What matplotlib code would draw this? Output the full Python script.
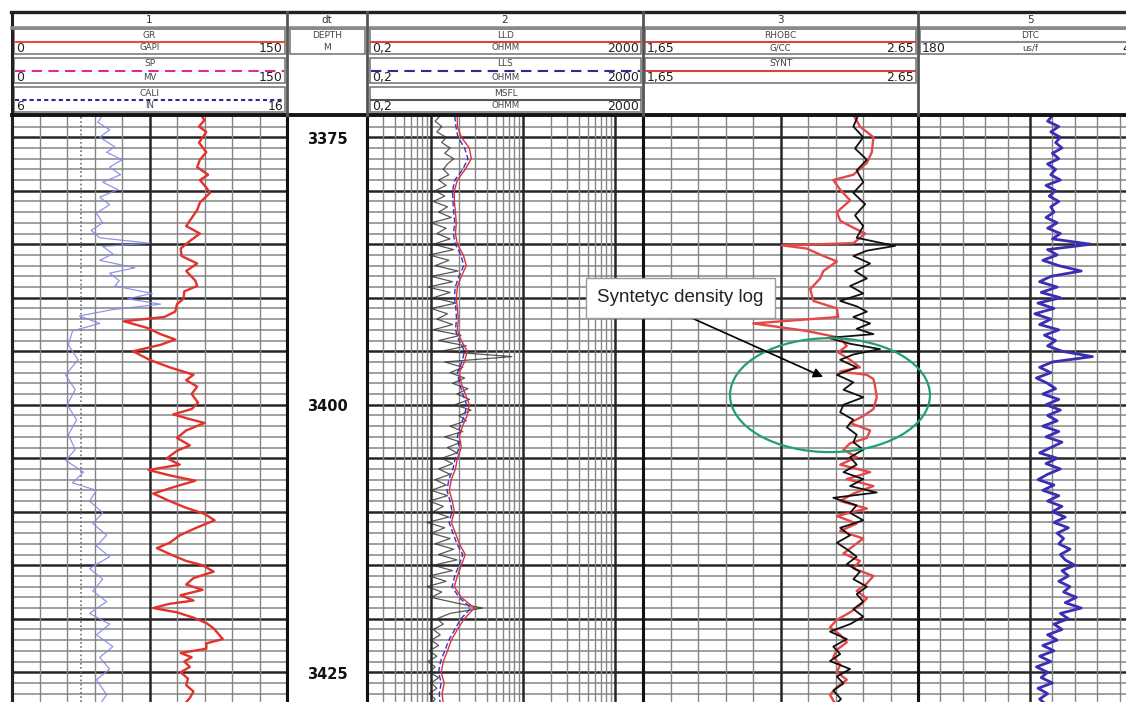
import numpy as np
import matplotlib
matplotlib.use("Agg")
import matplotlib.pyplot as plt
from matplotlib.patches import Rectangle, Ellipse

W, H = 1126, 702
TOP, BOTTOM = 3372.92, 3427.78

# --- log curves -----------------------------------------------------------
gr_depth = [3372.9, 3373.4, 3374.0, 3374.5, 3375.5, 3376.4, 3377.1, 3377.8, 3378.5, 3379.0,
            3379.7, 3380.2, 3381.1, 3381.8, 3382.3, 3383.3, 3384.0, 3384.7, 3385.4, 3386.1,
            3386.8, 3387.5, 3388.4, 3388.9, 3389.4, 3390.1, 3390.6, 3391.3, 3391.8, 3392.2,
            3392.8, 3393.4, 3393.9, 3394.4, 3395.0, 3395.8, 3396.5, 3397.2, 3397.7, 3398.3,
            3399.0, 3399.8, 3400.4, 3400.9, 3401.3, 3401.7, 3402.4, 3403.1, 3403.8, 3404.3,
            3405.0, 3405.6, 3406.1, 3406.6, 3407.1, 3407.6, 3408.3, 3409.0, 3409.6, 3410.2,
            3410.8, 3411.5, 3412.2, 3412.9, 3413.4, 3414.1, 3414.6, 3415.0, 3415.6, 3416.2,
            3416.8, 3417.3, 3417.8, 3418.3, 3418.6, 3419.0, 3419.4, 3419.9, 3420.4, 3420.9,
            3421.5, 3421.9, 3422.3, 3422.8, 3423.2, 3423.6, 3424.0, 3424.5, 3425.0, 3425.6,
            3426.2, 3426.8, 3427.4, 3428.0]
gr_vals = [103, 105, 102, 106, 102, 106, 102.5, 101, 107, 102.5,
           106, 108, 102.5, 101, 99, 95, 102.5, 97, 92, 92.5,
           101, 95, 100, 101, 94, 93.5, 90, 89, 83, 61,
           73.5, 81, 89, 81, 66, 75, 86, 99, 95, 101,
           98, 101.5, 98, 88, 96, 105, 95, 90, 97, 90,
           84.5, 91.5, 74.5, 86, 100, 90, 77, 86, 94.5, 105,
           110.5, 100.5, 91.5, 86, 79, 88, 95, 104, 110, 99,
           95, 104, 92, 99, 86, 77, 90, 99, 106, 110,
           113, 115, 106, 106, 92, 98, 94, 97, 92, 96,
           95, 99, 97, 94]

cali_depth = [3372.9, 3373.6, 3374.3, 3375.0, 3375.9, 3376.4, 3377.1, 3377.8, 3378.5, 3379.2,
              3379.9, 3380.6, 3381.3, 3382.1, 3383.0, 3383.7, 3384.4, 3384.9, 3385.2, 3385.9,
              3386.5, 3387.2, 3387.7, 3388.4, 3388.9, 3389.6, 3390.1, 3390.6, 3391.1, 3391.7,
              3392.4, 3393.1, 3394.4, 3395.8, 3397.2, 3398.6, 3400.0, 3401.4, 3402.8, 3404.2,
              3405.2, 3406.3, 3407.3, 3408.0, 3409.0, 3410.1, 3411.1, 3412.2, 3413.2, 3414.2,
              3415.3, 3416.3, 3417.4, 3418.4, 3419.5, 3420.5, 3421.5, 3422.6, 3423.6, 3424.7,
              3425.7, 3427.1, 3428.0]
cali_vals = [9.3, 9.12, 9.55, 9.19, 9.74, 9.44, 10.0, 9.55, 9.95, 9.3,
             9.85, 9.19, 9.55, 9.07, 9.3, 8.88, 9.19, 11.0, 9.3, 9.67,
             9.19, 10.47, 9.55, 9.9, 9.74, 11.1, 10.2, 11.4, 9.67, 8.45,
             9.19, 8.2, 8.05, 8.4, 7.95, 8.3, 8.0, 8.35, 8.05, 8.3,
             7.95, 8.6, 8.2, 9.07, 8.82, 9.3, 8.94, 9.44, 9.07, 9.55,
             8.82, 9.3, 8.94, 9.44, 8.82, 9.55, 9.07, 9.67, 9.19, 9.55,
             9.07, 9.44, 9.2]
BIT_SIZE = 8.5

res_depth = np.arange(3373, 3429)
lld_vals = [1.92, 1.92, 2.12, 2.59, 2.72, 2.34, 1.92, 1.78, 1.78, 1.83,
            1.87, 1.83, 1.92, 2.23, 2.40, 2.12, 1.92, 1.87, 1.92, 1.97,
            1.92, 2.12, 2.46, 2.29, 2.02, 2.12, 2.34, 2.59, 2.46, 2.18,
            2.02, 2.12, 1.92, 1.83, 1.65, 1.57, 1.69, 1.78, 1.65, 1.83,
            2.02, 2.34, 2.12, 1.92, 1.78, 2.12, 2.94, 2.29, 1.92, 1.65,
            1.50, 1.35, 1.28, 1.38, 1.31, 1.35]
lls_vals = [1.80, 1.85, 1.95, 2.30, 2.50, 2.20, 1.80, 1.70, 1.72, 1.75,
            1.80, 1.74, 1.82, 2.10, 2.25, 2.00, 1.82, 1.78, 1.85, 1.88,
            1.83, 2.00, 2.30, 2.15, 1.92, 2.02, 2.20, 2.42, 2.30, 2.05,
            1.92, 2.00, 1.82, 1.72, 1.55, 1.48, 1.60, 1.68, 1.56, 1.72,
            1.90, 2.20, 2.00, 1.80, 1.68, 2.00, 2.70, 2.10, 1.80, 1.55,
            1.40, 1.26, 1.20, 1.28, 1.22, 1.25]

half_depth = np.arange(3373.0, 3428.01, 0.5)
msfl_vals = [1.25, 1.10, 1.30, 1.15, 1.45, 1.30, 1.60, 1.40, 1.75, 1.50,
             1.35, 1.55, 1.20, 1.45, 1.10, 1.40, 1.05, 1.50, 1.20, 1.65,
             1.00, 1.45, 1.15, 1.60, 1.05, 1.75, 0.95, 1.55, 1.10, 1.95,
             1.00, 1.70, 0.92, 1.60, 1.05, 1.85, 1.00, 1.50, 1.15, 1.70,
             1.05, 2.10, 1.20, 2.40, 1.30, 7.50, 1.40, 2.20, 1.60, 2.30,
             1.70, 2.50, 1.90, 2.60, 1.80, 2.70, 2.00, 2.40, 1.60, 2.20,
             1.40, 2.10, 1.50, 1.90, 1.30, 1.70, 1.20, 1.60, 1.10, 1.45,
             1.00, 1.50, 0.95, 1.35, 1.05, 1.55, 0.90, 1.40, 1.00, 1.60,
             1.10, 1.75, 1.20, 1.90, 1.05, 1.70, 0.95, 1.45, 0.90, 1.30,
             1.00, 1.80, 3.60, 1.60, 1.15, 1.35, 1.05, 1.25, 1.00, 1.20,
             0.95, 1.15, 0.92, 1.10, 0.95, 1.20, 1.00, 1.15, 0.95, 1.10, 1.00]

rhob_depth = [3372.9, 3374.0, 3375.0, 3376.4, 3377.4, 3378.5, 3379.0, 3379.9, 3380.9, 3382.0,
              3382.8, 3383.3, 3384.0, 3384.9, 3385.1, 3385.4, 3386.1, 3386.6, 3387.5, 3388.2,
              3389.2, 3390.3, 3391.0, 3391.8, 3392.4, 3393.1, 3393.75, 3394.5, 3395.1, 3395.8,
              3396.5, 3396.9, 3397.2, 3397.6, 3398.3, 3399.3, 3400.4, 3401.05, 3401.7, 3402.4,
              3403.1, 3403.6, 3404.2, 3404.9, 3405.6, 3406.3, 3406.95, 3407.6, 3408.3, 3409.0,
              3409.7, 3410.4, 3411.1, 3411.8, 3412.5, 3413.2, 3413.9, 3414.6, 3415.3, 3416.0,
              3416.7, 3417.4, 3418.1, 3418.75, 3419.4, 3420.1, 3420.8, 3421.5, 3422.2, 3422.9,
              3423.6, 3424.3, 3425.0, 3425.7, 3426.4, 3427.1, 3428.0]
rhob_vals = [2.415, 2.439, 2.488, 2.482, 2.464, 2.415, 2.342, 2.367, 2.403, 2.355,
             2.367, 2.403, 2.458, 2.415, 2.155, 2.245, 2.306, 2.355, 2.306, 2.294,
             2.258, 2.270, 2.355, 2.360, 2.051, 2.245, 2.367, 2.391, 2.360, 2.403,
             2.439, 2.367, 2.464, 2.488, 2.494, 2.500, 2.488, 2.451, 2.403, 2.476,
             2.464, 2.403, 2.379, 2.427, 2.367, 2.476, 2.391, 2.488, 2.415, 2.367,
             2.464, 2.355, 2.427, 2.367, 2.451, 2.415, 2.379, 2.439, 2.415, 2.488,
             2.464, 2.427, 2.464, 2.439, 2.403, 2.355, 2.330, 2.367, 2.391, 2.355,
             2.342, 2.367, 2.355, 2.391, 2.355, 2.330, 2.350]

synt_depth = [3372.9, 3374.0, 3375.0, 3376.05, 3377.1, 3378.1, 3379.2, 3380.2, 3381.25, 3382.3,
              3383.3, 3384.4, 3385.15, 3385.6, 3386.1, 3386.8, 3387.5, 3388.2, 3388.9, 3389.6,
              3390.3, 3390.8, 3391.3, 3391.8, 3392.4, 3392.9, 3393.4, 3393.75, 3394.3, 3394.8,
              3395.3, 3395.8, 3396.5, 3397.2, 3397.9, 3398.6, 3399.3, 3400.0, 3400.7, 3401.4,
              3402.1, 3402.8, 3403.5, 3404.2, 3404.9, 3405.6, 3406.3, 3406.95, 3407.6, 3408.2,
              3408.7, 3409.4, 3410.1, 3410.8, 3411.5, 3412.2, 3412.9, 3413.5, 3414.2, 3414.9,
              3415.6, 3416.3, 3417.0, 3417.7, 3418.4, 3419.1, 3419.8, 3420.5, 3421.2, 3421.9,
              3422.6, 3423.3, 3423.95, 3424.7, 3425.4, 3426.05, 3426.7, 3427.5, 3428.0]
synt_vals = [2.433, 2.415, 2.451, 2.421, 2.464, 2.427, 2.451, 2.415, 2.458, 2.421,
             2.451, 2.427, 2.567, 2.464, 2.415, 2.476, 2.421, 2.464, 2.403, 2.451,
             2.367, 2.427, 2.464, 2.415, 2.476, 2.427, 2.488, 2.324, 2.403, 2.512,
             2.415, 2.367, 2.427, 2.355, 2.415, 2.379, 2.451, 2.379, 2.367, 2.415,
             2.391, 2.427, 2.415, 2.451, 2.403, 2.427, 2.379, 2.451, 2.403, 2.500,
             2.342, 2.427, 2.403, 2.451, 2.367, 2.403, 2.355, 2.391, 2.427, 2.391,
             2.439, 2.415, 2.464, 2.427, 2.451, 2.415, 2.451, 2.403, 2.330, 2.391,
             2.342, 2.367, 2.330, 2.403, 2.355, 2.379, 2.342, 2.370, 2.350]

dtc_vals = [96, 99, 92, 97, 91, 94, 90, 96, 92, 99,
            94, 97, 91, 100, 94, 98, 92, 97, 95, 100,
            93, 99, 91, 96, 72, 99, 93, 102, 92, 78,
            97, 104, 93, 103, 91, 105, 95, 107, 97, 104,
            92, 101, 94, 99, 90, 71, 96, 104, 97, 106,
            99, 94, 102, 92, 100, 91, 99, 93, 102, 92,
            100, 90, 97, 104, 93, 100, 91, 99, 105, 95,
            102, 92, 99, 90, 96, 88, 95, 86, 93, 89,
            92, 85, 91, 88, 82, 90, 86, 92, 85, 89,
            81, 88, 78, 91, 86, 95, 90, 99, 93, 102,
            95, 104, 97, 106, 99, 103, 96, 105, 99, 104, 100]

depth_labels = [3375, 3400, 3425]

MINOR = "#858585"
MAJOR = "#262626"
EDGE = "#111111"

fig = plt.figure(figsize=(W / 100, H / 100), dpi=100)


def px_rect(x0, x1, y0=115, y1=H):
    return [x0 / W, 1 - y1 / H, (x1 - x0) / W, (y1 - y0) / H]


def make_track(x0, x1, xlim, minor_x, major_x, log=False, grid=True):
    ax = fig.add_axes(px_rect(x0, x1))
    if log:
        ax.set_xscale("log")
    ax.set_xlim(*xlim)
    ax.set_ylim(BOTTOM, TOP)
    ax.set_xticks([])
    ax.set_yticks([])
    ax.minorticks_off()
    for side in ("top", "bottom"):
        ax.spines[side].set_visible(False)
    for side in ("left", "right"):
        ax.spines[side].set_color(EDGE)
        ax.spines[side].set_linewidth(2.2)
    if grid:
        for d in range(3370, 3430):
            major = d % 5 == 0
            ax.axhline(d, color=MAJOR if major else MINOR, lw=1.8 if major else 1.1, zorder=0.5)
        for v in minor_x:
            ax.axvline(v, color=MINOR, lw=1.0, zorder=0.5)
        for v in major_x:
            ax.axvline(v, color=MAJOR, lw=1.8, zorder=0.6)
    return ax


# track 1: GR + caliper
ax1 = make_track(12, 287, (0, 150), [v for v in range(15, 150, 15) if v != 75], [75])
ax1.plot(gr_vals, gr_depth, color="#e3312b", lw=1.7, zorder=3)
ax1c = ax1.twiny()
ax1c.set_xlim(6, 16)
ax1c.set_xticks([])
ax1c.axis("off")
ax1c.axvline(BIT_SIZE, color="#6f6f6f", lw=1.2, ls=(0, (1, 1.5)), zorder=2)
ax1c.plot(cali_vals, cali_depth, color="#8489e6", lw=0.9, alpha=0.9, zorder=3)

# depth column
axd = make_track(287, 367, (0, 1), [], [], grid=False)
for d in depth_labels:
    axd.text(0.5, d + 0.2, str(d), ha="center", va="center", fontsize=10.5, fontweight="bold", color="#111")

# track 2: resistivity, logarithmic
log_minor = [k * 10.0 ** n for n in range(-1, 3) for k in range(2, 10) if 0.2 < k * 10.0 ** n < 200]
ax2 = make_track(367, 643, (0.2, 200), log_minor, [1, 10, 100], log=True)
ax2.plot(msfl_vals, half_depth, color="#2e2e2e", lw=0.9, alpha=0.8, zorder=3)
ax2.plot(lls_vals, res_depth, color="#3434c8", lw=1.0, ls=(0, (4, 2)), zorder=4)
ax2.plot(lld_vals, res_depth, color="#e0303c", lw=1.0, zorder=4)

# track 5: sonic
dtc_lines = np.linspace(180, 40, 11)[1:-1]
ax5 = make_track(918, 1142, (180, 40), [v for v in dtc_lines if v != 110], [110])
ax5.plot(dtc_vals, half_depth, color="#3b2db5", lw=2.0, zorder=3)

# track 3: density with synthetic density
ax3 = make_track(643, 918, (1.65, 2.65), [1.75, 1.85, 1.95, 2.05, 2.25, 2.35, 2.45, 2.55], [2.15])
ax3.set_zorder(3)
ax3.plot(rhob_vals, rhob_depth, color="#e5474a", lw=1.7, zorder=3)
ax3.plot(synt_vals, synt_depth, color="#111111", lw=1.3, zorder=4)
ax3.add_patch(Ellipse((2.330, 3399.1), width=0.727, height=10.65, fill=False,
                      edgecolor="#21a06e", lw=1.6, clip_on=False, zorder=6))
ax3.annotate("Syntetyc density log", xy=(2.305, 3397.4), xytext=(1.484, 3390.0),
             ha="left", va="center", fontsize=13.5, family=["Liberation Sans", "DejaVu Sans"],
             color="#222",
             bbox=dict(boxstyle="square,pad=0.6", fc="white", ec="#9a9a9a", lw=1),
             arrowprops=dict(arrowstyle="-|>", color="black", lw=1.2, relpos=(0.41, 0),
                             shrinkA=0, shrinkB=0, mutation_scale=14),
             annotation_clip=False, zorder=7)

# header panel drawn in pixel space
hdr = fig.add_axes([0, 0, 1, 1])
hdr.set_zorder(10)
hdr.set_xlim(0, W)
hdr.set_ylim(H, 0)
hdr.axis("off")

hdr.plot([11, W], [12, 12], color="#222", lw=2.4)
hdr.plot([12, 12], [12, H], color="#222", lw=2.2)
hdr.plot([12, W], [27.5, 27.5], color="#8a8a8a", lw=2.6)
hdr.plot([12, W], [115, 115], color="#151515", lw=2.8)
for x in (287, 367, 643, 918):
    hdr.plot([x, x], [12, 115], color="#555", lw=2.0)

for label, x in (("1", 149.5), ("dt", 327), ("2", 505), ("3", 780.5), ("5", 1030)):
    hdr.text(x, 20, label, ha="center", va="center", fontsize=7.5, color="#333")


def curve_box(x0, x1, y0, name, unit, left, right, color, ls="-", y1=None):
    y1 = y0 + 25 if y1 is None else y1
    hdr.add_patch(Rectangle((x0, y0), x1 - x0, y1 - y0, fc="white", ec="#7a7a7a", lw=1.2))
    hdr.text((x0 + x1) / 2, y0 + 6, name, ha="center", va="center", fontsize=6.5, color="#444")
    if color:
        hdr.plot([x0 + 1, x1 - 1], [y0 + 12.5, y0 + 12.5], color=color, lw=1.5, ls=ls)
    hdr.text((x0 + x1) / 2, y0 + 19, unit, ha="center", va="center", fontsize=6.2, color="#444")
    hdr.text(x0 + 2, y0 + 19.5, left, ha="left", va="center", fontsize=9, color="#222")
    hdr.text(x1 - 2, y0 + 19.5, right, ha="right", va="center", fontsize=9, color="#222")


curve_box(14, 285, 29, "GR", "GAPI", "0", "150", "#e0503a")
curve_box(14, 285, 58, "SP", "MV", "0", "150", "#d6308c", ls=(0, (5, 3)))
curve_box(14, 285, 87, "CALI", "IN", "6", "16", "#2b2b90", ls=(0, (2, 1.5)))

hdr.add_patch(Rectangle((290, 29), 75, 25, fc="white", ec="#7a7a7a", lw=1.2))
hdr.text(327.5, 36, "DEPTH", ha="center", va="center", fontsize=6.5, color="#444")
hdr.text(327.5, 47, "M", ha="center", va="center", fontsize=6.5, color="#444")

curve_box(370, 641, 29, "LLD", "OHMM", "0,2", "2000", "#e04040")
curve_box(370, 641, 58, "LLS", "OHMM", "0,2", "2000", "#2b2b90", ls=(0, (5, 3)))
curve_box(370, 641, 87, "MSFL", "OHMM", "0,2", "2000", "#555555")

curve_box(645, 916, 29, "RHOBC", "G/CC", "1,65", "2.65", "#e04040")
curve_box(645, 916, 58, "SYNT", "", "1,65", "2.65", "#e04040")

# the sonic track runs past the right edge, so its scale end is clipped
curve_box(920, 1140, 29, "DTC", "us/f", "180", "40", "#8a8a8a")

fig.savefig("out.png", dpi=100)
